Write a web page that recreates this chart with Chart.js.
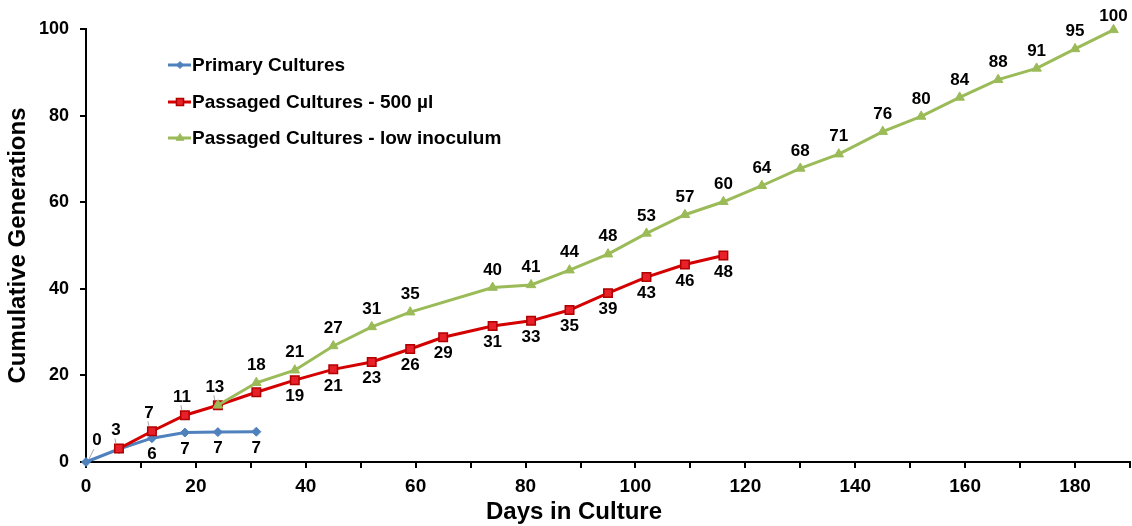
<!DOCTYPE html>
<html><head><meta charset="utf-8">
<script src="https://cdn.jsdelivr.net/npm/chart.js@4/dist/chart.umd.min.js"></script>
<style>html,body{margin:0;padding:0;background:#fff;overflow:hidden}#wrap{width:1132px;height:526px;position:relative}</style>
</head><body><div id="wrap"><canvas id="c"></canvas></div>
<script>
// ---- data ----
const primaryDays = [0, 6, 12, 18, 24, 31];
const primaryGen  = [0, 3, 5.5, 6.8, 6.9, 7.0];
const passagedDays = [6, 12, 18, 24, 31, 38, 45, 52, 59, 65, 74, 81, 88, 95, 102, 109, 116];
const passagedGen  = [3.1, 7.1, 10.8, 13.1, 16.1, 18.9, 21.4, 23.1, 26.1, 28.8, 31.4, 32.6, 35.1, 39.0, 42.7, 45.6, 47.7];
const lowDays = [24, 31, 38, 45, 52, 59, 74, 81, 88, 95, 102, 109, 116, 123, 130, 137, 145, 152, 159, 166, 173, 180, 187];
const lowGen  = [13.1, 18.3, 21.2, 26.8, 31.2, 34.6, 40.3, 40.9, 44.3, 48.0, 52.8, 57.1, 60.1, 63.8, 67.8, 71.1, 76.3, 79.8, 84.2, 88.3, 90.9, 95.4, 99.8];
const seriesNames = ['Primary Cultures', 'Passaged Cultures - 500 µl', 'Passaged Cultures - low inoculum'];
const xTickLabels = [0, 20, 40, 60, 80, 100, 120, 140, 160, 180];
const yTickLabels = [0, 20, 40, 60, 80, 100];
const xTitle = 'Days in Culture';
const yTitle = 'Cumulative Generations';

// label placement (style): a=above, b=below, al=above-left w/ leader, ar=above-right w/ leader, ''=none
const primaryPlace  = ['ar', '', 'b', 'b', 'b', 'b'];
const passagedPlace = ['al', 'al', 'al', 'al', '', 'b', 'b', 'b', 'b', 'b', 'b', 'b', 'b', 'b', 'b', 'b', 'b'];
const lowPlace = lowGen.map((v, i) => i === 0 ? '' : 'a');

const toPts = (xs, ys) => xs.map((x, i) => ({x: x, y: ys[i]}));

const BLUE = '#4F81BD', RED = '#D40000', GREEN = '#9BBB59';
const FONT = '"Liberation Sans", Arial, sans-serif';

const dataLabels = {
  id: 'dataLabels',
  afterDatasetsDraw(chart) {
    const ctx = chart.ctx;
    ctx.save();
    ctx.font = 'bold 17px ' + FONT;
    ctx.fillStyle = '#000';
    ctx.textAlign = 'center';
    ctx.textBaseline = 'middle';
    chart.data.datasets.forEach((ds, di) => {
      const meta = chart.getDatasetMeta(di);
      meta.data.forEach((el, i) => {
        const p = ds.place[i];
        if (!p) return;
        const txt = String(Math.round(ds.data[i].y));
        let dx = 0, dy = -17.5;
        if (p === 'b') dy = 16.5;
        if (p === 'al') { dx = -3; dy = -18; }
        if (p === 'ar') { dx = 11; dy = -22; }
        const lx = el.x + dx, ly = Math.max(el.y + dy, 16.5);
        if (p === 'al' || p === 'ar') {
          ctx.save();
          ctx.strokeStyle = '#A6A6A6';
          ctx.lineWidth = 1;
          ctx.beginPath();
          if (p === 'ar') { ctx.moveTo(el.x + 3, el.y - 3); ctx.lineTo(lx - 3, ly + 9); }
          else { ctx.moveTo(el.x - 3, el.y - 5); ctx.lineTo(lx - 1, ly + 8); }
          ctx.stroke();
          ctx.restore();
        }
        ctx.fillText(txt, lx, ly);
      });
    });
    ctx.restore();
  }
};

const customLegend = {
  id: 'customLegend',
  afterDraw(chart) {
    const ctx = chart.ctx;
    const rows = [65, 102, 138];
    ctx.save();
    chart.data.datasets.forEach((ds, i) => {
      const y = rows[i];
      ctx.strokeStyle = ds.borderColor;
      ctx.lineWidth = 3;
      ctx.beginPath(); ctx.moveTo(168, y); ctx.lineTo(191, y); ctx.stroke();
      ctx.fillStyle = ds.pointBackgroundColor;
      ctx.strokeStyle = ds.pointBorderColor;
      ctx.lineWidth = ds.pointBorderWidth;
      Chart.helpers.drawPoint(ctx, {pointStyle: ds.pointStyle, radius: ds.pointRadius - 1, borderWidth: ds.pointBorderWidth}, 180, y);
      ctx.fillStyle = '#000';
      ctx.font = 'bold 19px ' + FONT;
      ctx.textAlign = 'left';
      ctx.textBaseline = 'middle';
      ctx.fillText(ds.label, 192, y + 1);
    });
    // x-axis title (centred as in the original, slightly left of the plot centre)
    ctx.font = 'bold 24px ' + FONT;
    ctx.textAlign = 'center';
    ctx.textBaseline = 'middle';
    ctx.fillText(xTitle, 574, 512);
    ctx.restore();
  }
};

new Chart(document.getElementById('c'), {
  type: 'scatter',
  data: {
    datasets: [
      {label: seriesNames[0], data: toPts(primaryDays, primaryGen), place: primaryPlace, showLine: true,
       borderColor: BLUE, borderWidth: 3, pointStyle: 'rectRot', pointRadius: 4.5,
       pointBackgroundColor: BLUE, pointBorderColor: BLUE, pointBorderWidth: 1, order: 3},
      {label: seriesNames[1], data: toPts(passagedDays, passagedGen), place: passagedPlace, showLine: true,
       borderColor: RED, borderWidth: 3, pointStyle: 'rect', pointRadius: 6,
       pointBackgroundColor: '#E8202A', pointBorderColor: '#B00000', pointBorderWidth: 1.5, order: 2},
      {label: seriesNames[2], data: toPts(lowDays, lowGen), place: lowPlace, showLine: true,
       borderColor: GREEN, borderWidth: 3, pointStyle: 'triangle', pointRadius: 5.5,
       pointBackgroundColor: GREEN, pointBorderColor: GREEN, pointBorderWidth: 1, order: 1}
    ]
  },
  options: {
    responsive: true, maintainAspectRatio: false, animation: false,
    layout: {autoPadding: false, padding: {top: 29, right: 2, left: 0, bottom: 0}},
    plugins: {legend: {display: false}, tooltip: {enabled: false}},
    elements: {line: {tension: 0}},
    datasets: {scatter: {clip: false}},
    scales: {
      x: {
        type: 'linear', min: 0, max: 190,
        afterFit(s) { s.height = 64; s.paddingRight = 0; s.paddingLeft = 0; },
        ticks: {stepSize: 10, padding: 7, color: '#000', maxRotation: 0, autoSkip: false,
          font: {family: FONT, size: 19, weight: 'bold'},
          callback: v => xTickLabels.includes(v) ? String(v) : ''},
        grid: {drawOnChartArea: false, drawTicks: true, tickLength: 6, color: '#000', lineWidth: 2},
        border: {display: true, color: '#000', width: 2},
        title: {display: false}
      },
      y: {
        type: 'linear', min: 0, max: 100,
        afterFit(s) { s.width = 86; },
        ticks: {stepSize: 20, padding: 11, color: '#000',
          font: {family: FONT, size: 18, weight: 'bold'},
          callback: v => yTickLabels.includes(v) ? String(v) : ''},
        grid: {drawOnChartArea: false, drawTicks: true, tickLength: 6, color: '#000', lineWidth: 2},
        border: {display: true, color: '#000', width: 2},
        title: {display: true, text: yTitle, color: '#000', padding: {top: 4, bottom: 0},
          font: {family: FONT, size: 24, weight: 'bold'}}
      }
    }
  },
  plugins: [dataLabels, customLegend]
});
</script>
</body></html>
